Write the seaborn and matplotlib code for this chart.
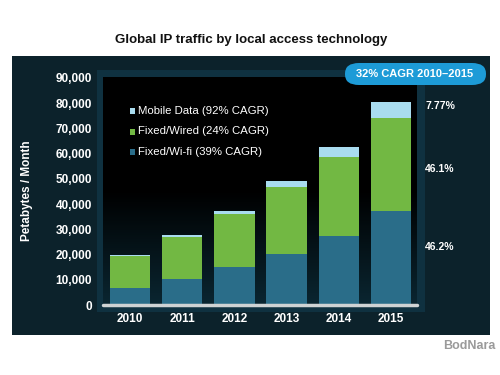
import numpy as np
import pandas as pd
import matplotlib
matplotlib.use("Agg")
import matplotlib.pyplot as plt
from matplotlib.patches import Rectangle, FancyBboxPatch
import seaborn as sns

years = ["2010", "2011", "2012", "2013", "2014", "2015"]
wifi = [6800, 10400, 14900, 20400, 27500, 37200]
wired = [12800, 16550, 21200, 26200, 31300, 37100]
mobile = [400, 800, 1300, 2400, 3700, 6250]
series_labels = ["Mobile Data (92% CAGR)", "Fixed/Wired (24% CAGR)", "Fixed/Wi-fi (39% CAGR)"]
share_labels = ["7.77%", "46.1%", "46.2%"]
yticks = [0, 10000, 20000, 30000, 40000, 50000, 60000, 70000, 80000, 90000]

c_wifi = "#2a6d89"
c_wired = "#72b843"
c_mobile = "#a9dcef"
panel = "#0c222b"
border = "#0f3140"

df = pd.DataFrame({"year": years, "wifi": wifi, "wired": wired, "mobile": mobile})
df["fixed"] = df["wifi"] + df["wired"]
df["total"] = df["fixed"] + df["mobile"]

sns.set_style("white")
plt.rcParams["font.family"] = ["Liberation Sans", "DejaVu Sans"]
fig = plt.figure(figsize=(5, 3.75), dpi=100)
fig.patch.set_facecolor("white")

# dark panel
fig.patches.append(Rectangle((12/500, 1-335/375), 478/500, 279/375, transform=fig.transFigure,
                             facecolor=panel, edgecolor="none", zorder=0))
# border around plot area
fig.patches.append(Rectangle((97/500, 1-312/375), 328/500, 242/375, transform=fig.transFigure,
                             facecolor=border, edgecolor="none", zorder=0))

ax = fig.add_axes([103/500, 1-305/375, 314/500, 228.3/375])
ax.set_zorder(2)

# background gradient
grad = np.linspace(0, 1, 256).reshape(-1, 1)
cmap = matplotlib.colors.LinearSegmentedColormap.from_list("bg", ["#000000", "#000000", "#0a2631"])
ax.imshow(grad, aspect="auto", cmap=cmap, extent=(-0.52, 5.5, 0, 90500), origin="upper", zorder=0)

kw = dict(width=0.775, saturation=1, ax=ax, linewidth=0, edgecolor="none")
sns.barplot(data=df, x="year", y="total", color=c_mobile, zorder=2, **kw)
sns.barplot(data=df, x="year", y="fixed", color=c_wired, zorder=3, **kw)
sns.barplot(data=df, x="year", y="wifi", color=c_wifi, zorder=4, **kw)

ax.set_xlim(-0.52, 5.5)
ax.set_ylim(0, 90500)
ax.axhline(0, color="#cfd3d4", lw=2.5, zorder=5, clip_on=False)
ax.set_yticks(yticks)
ax.set_yticklabels([f"{v:,}" for v in yticks], color="white", fontweight="bold", fontsize=8.5)
ax.set_xticks(range(len(years)))
ax.set_xticklabels(years, color="white", fontweight="bold", fontsize=8.5)
ax.tick_params(axis="both", length=0, pad=6)
ax.tick_params(axis="y", pad=8)
ax.set_xlabel("")
ax.set_ylabel("Petabytes / Month", color="white", fontweight="bold", fontsize=8.5, labelpad=16)
for s in ax.spines.values():
    s.set_visible(False)

# legend
for i, (lab, col) in enumerate(zip(series_labels, [c_mobile, c_wired, c_wifi])):
    ypx = 111 + i * 20.5
    fig.patches.append(Rectangle((129.5/500, 1 - (ypx + 3)/375), 5.5/500, 5.5/375,
                                 transform=fig.transFigure, facecolor=col, edgecolor="none", zorder=10))
    fig.text(138/500, 1 - ypx/375, lab, color="white", fontsize=8.2, va="center", ha="left", zorder=10)

# share labels
for lab, ypx in zip(share_labels, [106, 169, 247]):
    fig.text(425/500, 1 - ypx/375, lab, color="white", fontweight="bold", fontsize=7.5, va="center", ha="left")

# CAGR badge
fig.patches.append(FancyBboxPatch((345/500, 1-85/375), 141/500, 22/375, transform=fig.transFigure,
                                  boxstyle="round,pad=0,rounding_size=0.028", facecolor="#1d9bd7",
                                  edgecolor="none", zorder=3))
fig.text(415/500, 1-74/375, "32% CAGR 2010\u20132015", color="white", fontweight="bold",
         fontsize=8, ha="center", va="center", zorder=11)

fig.text(251/500, 1-40/375, "Global IP traffic by local access technology", color="#111111",
         fontweight="bold", fontsize=9.5, ha="center", va="center")
fig.text(495/500, 1-346/375, "BodNara", color="#9a9a9a", fontweight="bold", fontsize=9,
         ha="right", va="center")

fig.savefig("out.png", dpi=100, facecolor="white")
